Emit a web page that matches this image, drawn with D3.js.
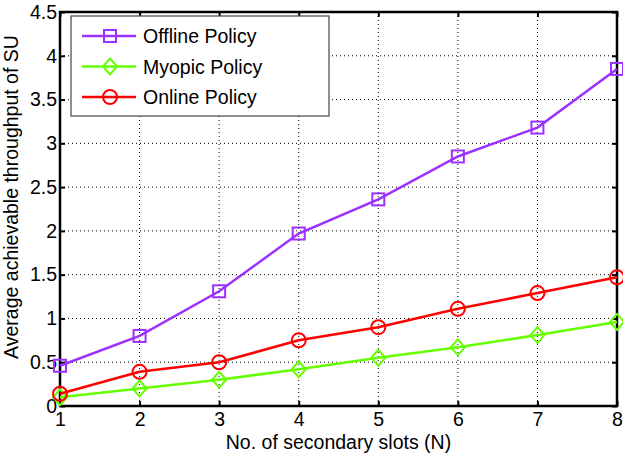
<!DOCTYPE html>
<html>
<head>
<meta charset="utf-8">
<script src="https://cdn.jsdelivr.net/npm/d3@7"></script>
<style>
  body { margin: 0; background: #fff; }
  text { font-family: "Liberation Sans", Arial, sans-serif; }
</style>
</head>
<body>
<div id="chart"></div>
<script>
const slots = [1, 2, 3, 4, 5, 6, 7, 8];
const offline = [0.46, 0.80, 1.31, 1.97, 2.36, 2.85, 3.18, 3.85];
const myopic = [0.10, 0.20, 0.30, 0.42, 0.55, 0.67, 0.81, 0.96];
const online = [0.14, 0.39, 0.50, 0.75, 0.90, 1.11, 1.29, 1.47];
const yTicks = [0, 0.5, 1, 1.5, 2, 2.5, 3, 3.5, 4, 4.5];

const series = [
    { name: "Offline Policy", values: offline, color: "#9b30ff", marker: "square" },
    { name: "Myopic Policy", values: myopic, color: "#66ff00", marker: "diamond" },
    { name: "Online Policy", values: online, color: "#ff0000", marker: "circle" }
];

const W = 623, H = 454;
const margin = { top: 12, right: 6, bottom: 48, left: 60 };
const width = W - margin.left - margin.right;
const height = H - margin.top - margin.bottom;
const fs = 19.5;

const svg = d3.select("#chart")
    .append("svg")
    .attr("width", W)
    .attr("height", H)
    .append("g")
    .attr("transform", `translate(${margin.left},${margin.top})`);

const x = d3.scaleLinear().domain([1, 8]).range([0, width]);
const y = d3.scaleLinear().domain([0, 4.5]).range([height, 0]);

// grid
svg.append("g")
    .selectAll("line")
    .data(slots.slice(1, -1))
    .enter()
    .append("line")
    .attr("x1", d => x(d)).attr("x2", d => x(d))
    .attr("y1", 0).attr("y2", height)
    .attr("stroke", "#000").attr("stroke-width", 1)
    .attr("stroke-dasharray", "1,3");

svg.append("g")
    .selectAll("line")
    .data(yTicks.slice(1, -1))
    .enter()
    .append("line")
    .attr("y1", d => y(d)).attr("y2", d => y(d))
    .attr("x1", 0).attr("x2", width)
    .attr("stroke", "#000").attr("stroke-width", 1)
    .attr("stroke-dasharray", "1,3");

// axes
const xAxis = d3.axisBottom(x).tickValues(slots).tickSize(-5).tickPadding(6).tickFormat(d3.format("d"));
const yAxis = d3.axisLeft(y).tickValues(yTicks).tickSize(-5).tickPadding(3).tickFormat(d => d);

svg.append("g")
    .attr("transform", `translate(0,${height})`)
    .call(xAxis);
svg.append("g").call(yAxis);

// top and right ticks
svg.append("g").call(d3.axisTop(x).tickValues(slots).tickSize(-5).tickFormat(""));
svg.append("g").attr("transform", `translate(${width},0)`)
    .call(d3.axisRight(y).tickValues(yTicks).tickSize(-5).tickFormat(""));

svg.selectAll(".domain").remove();
svg.selectAll(".tick line").attr("stroke", "#000").attr("stroke-width", 2);
svg.selectAll(".tick text").attr("font-size", fs).attr("fill", "#000");

svg.append("rect")
    .attr("width", width).attr("height", height)
    .attr("fill", "none").attr("stroke", "#000").attr("stroke-width", 2.5);

// labels
svg.append("text")
    .attr("x", width / 2)
    .attr("y", height + 43)
    .attr("text-anchor", "middle")
    .attr("font-size", fs)
    .text("No. of secondary slots (N)");

svg.append("text")
    .attr("transform", `translate(${-42},${185}) rotate(-90)`)
    .attr("text-anchor", "middle")
    .attr("font-size", fs)
    .text("Average achievable throughput of SU");

function drawMarker(g, type, color, cx, cy) {
    if (type === "square") {
        g.append("rect").attr("x", cx - 6).attr("y", cy - 6).attr("width", 12).attr("height", 12)
            .attr("fill", "none").attr("stroke", color).attr("stroke-width", 2);
    } else if (type === "diamond") {
        g.append("path").attr("d", `M${cx},${cy - 8}L${cx + 7},${cy}L${cx},${cy + 8}L${cx - 7},${cy}Z`)
            .attr("fill", "none").attr("stroke", color).attr("stroke-width", 2);
    } else {
        g.append("circle").attr("cx", cx).attr("cy", cy).attr("r", 7)
            .attr("fill", "none").attr("stroke", color).attr("stroke-width", 2);
    }
}

const line = d3.line().x((d, i) => x(slots[i])).y(d => y(d));

series.forEach(s => {
    const g = svg.append("g");
    g.append("path")
        .attr("d", line(s.values))
        .attr("fill", "none")
        .attr("stroke", s.color)
        .attr("stroke-width", 2.5);
    s.values.forEach((v, i) => drawMarker(g, s.marker, s.color, x(slots[i]), y(v)));
});

// legend
const legend = svg.append("g").attr("transform", "translate(11,4)");
legend.append("rect")
    .attr("width", 258).attr("height", 100)
    .attr("fill", "#fff").attr("stroke", "#444").attr("stroke-width", 1.2);

series.forEach((s, i) => {
    const ly = 20 + i * 30.5;
    legend.append("line")
        .attr("x1", 11).attr("x2", 65)
        .attr("y1", ly).attr("y2", ly)
        .attr("stroke", s.color).attr("stroke-width", 2.5);
    drawMarker(legend, s.marker, s.color, 39, ly);
    legend.append("text")
        .attr("x", 72).attr("y", ly + 7)
        .attr("font-size", fs)
        .text(s.name);
});
</script>
</body>
</html>
